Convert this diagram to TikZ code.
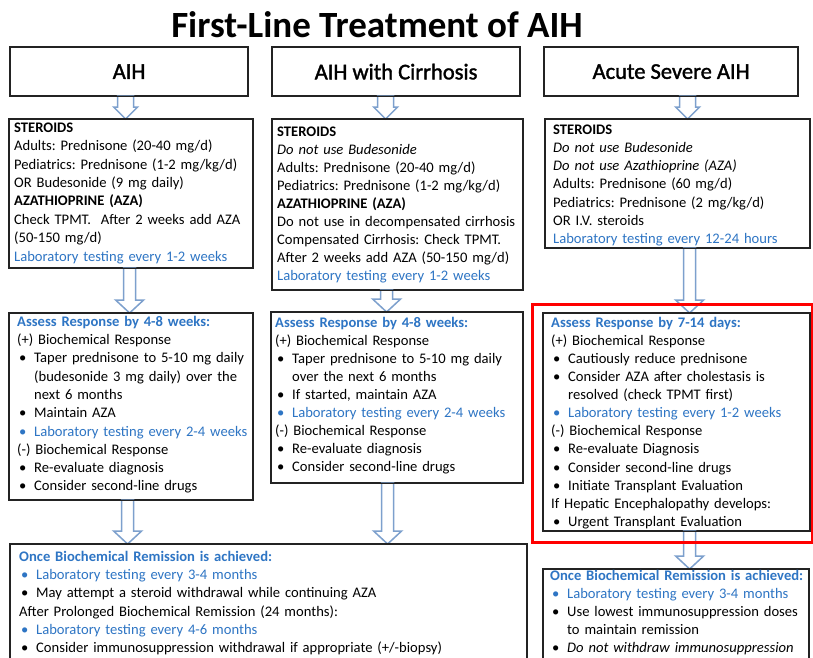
\documentclass[tikz,border=0pt]{standalone}
\usepackage{fontspec}
\setmainfont{Carlito}
\newfontfamily\headfont[FakeBold=1.6]{Carlito}
\usetikzlibrary{calc}
\definecolor{txtblue}{RGB}{46,117,196}
\definecolor{arrowblue}{RGB}{125,160,205}
\definecolor{framegray}{RGB}{35,35,35}
\setlength\lineskiplimit{-20pt}
\frenchspacing
\newcommand\bl[1]{\makebox[17pt][l]{\hspace{2pt}\textbullet}#1}
\newcommand\bbl[1]{{\color{txtblue}\makebox[17pt][l]{\hspace{2pt}\textbullet}#1}}
\newcommand\cont[1]{\hspace*{17pt}#1}
\newcommand\blu[1]{{\color{txtblue}#1}}
\newcommand\fs{\rule{0pt}{12pt}}
\newcommand\blockarr[5]{\draw[arrowline] let \p1=#1, \p2=#2 in (\x1-#3,\y1) -- (\x1-#3,\y2+#5) -- (\x1-#4,\y2+#5) -- (\x1,\y2) -- (\x1+#4,\y2+#5) -- (\x1+#3,\y2+#5) -- (\x1+#3,\y1) -- cycle;}
\tikzset{
  frame/.style={draw=framegray, line width=1.2pt, inner sep=0pt, anchor=north west},
  headbox/.style={frame, minimum height=48pt, font=\headfont\fontsize{22.5}{27}\selectfont},
  body/.style 2 args={anchor=north west, inner sep=0pt, text width=#1, align=left,
    font=\fontsize{14.6}{#2}\selectfont},
  arrowline/.style={draw=arrowblue, fill=white, line width=1.5pt, line join=miter},
  redframe/.style={draw=red, line width=3pt, inner sep=0pt, anchor=north west}
}
\begin{document}
\begin{tikzpicture}[x=1pt,y=-1pt]
\fill[white] (0,0) rectangle (813,657);
\useasboundingbox (0,0) rectangle (813,657);
\node[font=\fontsize{37}{44}\selectfont\bfseries, anchor=base, inner sep=0pt] (title) at (377,37) {First-Line Treatment of AIH};
% boxes
\path node[headbox, minimum width=237pt] (h1) at (10,47) {AIH}
      node[headbox, minimum width=247pt] (h2) at (272,47) {AIH with Cirrhosis}
      node[headbox, minimum width=253pt] (h3) at (544,47) {Acute Severe AIH};
\path node[frame, minimum width=243pt, minimum height=148pt] (r2a) at (9,119) {}
      node[frame, minimum width=250pt, minimum height=170pt] (r2b) at (272,119) {}
      node[frame, minimum width=264pt, minimum height=128pt] (r2c) at (545,119) {}
      node[frame, minimum width=243pt, minimum height=186pt] (r3a) at (9,313) {}
      node[frame, minimum width=251pt, minimum height=170pt] (r3b) at (271,312) {}
      node[frame, minimum width=266pt, minimum height=217pt] (r3c) at (543,313) {}
      node[frame, minimum width=516pt, minimum height=121pt] (b1) at (10,544) {}
      node[frame, minimum width=265pt, minimum height=96pt] (b3) at (543,569) {};
% arrows
\blockarr{([xshift=-3.5pt]h1.south)}{(r2a.north)}{8pt}{12pt}{12pt}
\blockarr{([xshift=-10.5pt]h2.south)}{(r2b.north)}{8pt}{12pt}{12pt}
\blockarr{([xshift=16.5pt]h3.south)}{(r2c.north)}{8pt}{12pt}{12pt}
\blockarr{([xshift=-1.5pt]r2a.south)}{(r3a.north)}{6pt}{14pt}{13pt}
\blockarr{([xshift=-11pt]r2b.south)}{(r3b.north)}{6pt}{14pt}{13pt}
\blockarr{([xshift=12pt]r2c.south)}{(r3c.north)}{6pt}{14pt}{13pt}
\blockarr{([xshift=-3.5pt]r3a.south)}{(b1.north)}{6pt}{14pt}{13pt}
\blockarr{([xshift=-9.5pt]r3b.south)}{(b1.north)}{6pt}{14pt}{13pt}
\blockarr{([xshift=13pt]r3c.south)}{(b3.north)}{6pt}{14pt}{13pt}
% redraw frames on top of arrows
\foreach \n in {h1,h2,h3,r2a,r2b,r2c,r3a,r3b,r3c,b1,b3}
  \draw[draw=framegray, line width=1.2pt] (\n.south west) rectangle (\n.north east);
% texts
\node[body={300pt}{18.4pt}] (t2a) at (14,120) {\fs\textbf{STEROIDS}\\
Adults: Prednisone (20-40 mg/d)\\
Pediatrics: Prednisone (1-2 mg/kg/d)\\
OR Budesonide (9 mg daily)\\
\textbf{AZATHIOPRINE (AZA)}\\
Check TPMT.\ \ After 2 weeks add AZA\\
(50-150 mg/d)\\
\blu{Laboratory testing every 1-2 weeks}};
\node[body={300pt}{18pt}] (t2b) at (277,124) {\fs\textbf{STEROIDS}\\
\textit{Do not use Budesonide}\\
Adults: Prednisone (20-40 mg/d)\\
Pediatrics: Prednisone (1-2 mg/kg/d)\\
\textbf{AZATHIOPRINE (AZA)}\\
Do not use in decompensated cirrhosis\\
Compensated Cirrhosis: Check TPMT.\\
After 2 weeks add AZA (50-150 mg/d)\\
\blu{Laboratory testing every 1-2 weeks}};
\node[body={300pt}{18.2pt}] (t2c) at (553,122) {\fs\textbf{STEROIDS}\\
\textit{Do not use Budesonide}\\
\textit{Do not use Azathioprine (AZA)}\\
Adults: Prednisone (60 mg/d)\\
Pediatrics: Prednisone (2 mg/kg/d)\\
OR I.V. steroids\\
\blu{Laboratory testing every 12-24 hours}};
\node[body={300pt}{18.3pt}] (t3a) at (17,314) {\fs\blu{\textbf{Assess Response by 4-8 weeks:}}\\
(+) Biochemical Response\\
\bl{Taper prednisone to 5-10 mg daily}\\
\cont{(budesonide 3 mg daily) over the}\\
\cont{next 6 months}\\
\bl{Maintain AZA}\\
\bbl{Laboratory testing every 2-4 weeks}\\
(-) Biochemical Response\\
\bl{Re-evaluate diagnosis}\\
\bl{Consider second-line drugs}};
\node[body={300pt}{18pt}] (t3b) at (275,315) {\fs\blu{\textbf{Assess Response by 4-8 weeks:}}\\
(+) Biochemical Response\\
\bl{Taper prednisone to 5-10 mg daily}\\
\cont{over the next 6 months}\\
\bl{If started, maintain AZA}\\
\bbl{Laboratory testing every 2-4 weeks}\\
(-) Biochemical Response\\
\bl{Re-evaluate diagnosis}\\
\bl{Consider second-line drugs}};
\node[body={300pt}{18.1pt}] (t3c) at (551,315) {\fs\blu{\textbf{Assess Response by 7-14 days:}}\\
(+) Biochemical Response\\
\bl{Cautiously reduce prednisone}\\
\bl{Consider AZA after cholestasis is}\\
\cont{resolved (check TPMT first)}\\
\bbl{Laboratory testing every 1-2 weeks}\\
(-) Biochemical Response\\
\bl{Re-evaluate Diagnosis}\\
\bl{Consider second-line drugs}\\
\bl{Initiate Transplant Evaluation}\\
If Hepatic Encephalopathy develops:\\
\bl{Urgent Transplant Evaluation}};
\node[body={520pt}{18.3pt}] (tb1) at (19,549) {\fs\blu{\textbf{Once Biochemical Remission is achieved:}}\\
\bbl{Laboratory testing every 3-4 months}\\
\bl{May attempt a steroid withdrawal while continuing AZA}\\
After Prolonged Biochemical Remission (24 months):\\
\bbl{Laboratory testing every 4-6 months}\\
\bl{Consider immunosuppression withdrawal if appropriate (+/-biopsy)}};
\node[body={300pt}{18.1pt}] (tb3) at (550,568) {\fs\blu{\textbf{Once Biochemical Remission is achieved:}}\\
\bbl{Laboratory testing every 3-4 months}\\
\bl{Use lowest immunosuppression doses}\\
\cont{to maintain remission}\\
\bl{\textit{Do not withdraw immunosuppression}}};
% red highlight
\node[redframe, minimum width=280pt, minimum height=238pt] (hl) at (531,303) {};
\end{tikzpicture}
\end{document}
